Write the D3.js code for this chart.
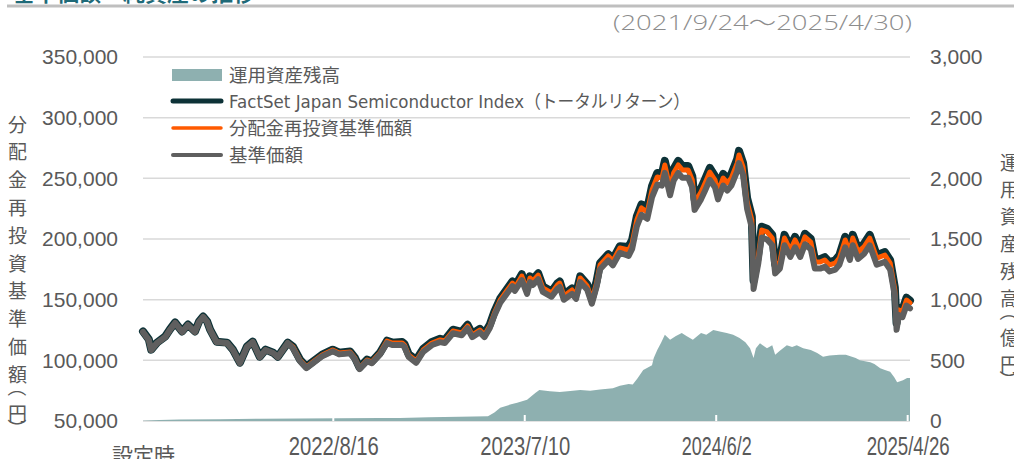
<!DOCTYPE html>
<html>
<head>
<meta charset="utf-8">
<script src="https://cdn.jsdelivr.net/npm/d3@7"></script>
<style>
body { margin: 0; background: #fff; overflow: hidden; }
svg { display: block; }
</style>
</head>
<body>
<svg id="chart" width="1014" height="459"></svg>
<script>
// 基準価額・運用資産残高の推移（2021/9/24～2025/4/30）

var lineDates = [
 "2021-09-24","2021-10-04","2021-10-08","2021-10-18","2021-11-01","2021-11-09","2021-11-18","2021-11-30","2021-12-10","2021-12-22",
 "2021-12-29","2022-01-05","2022-01-12","2022-01-17","2022-01-28","2022-02-15","2022-02-25","2022-03-09","2022-03-21","2022-03-31",
 "2022-04-12","2022-04-22","2022-05-05","2022-05-13","2022-05-30","2022-06-08","2022-06-20","2022-07-01","2022-07-12","2022-07-28",
 "2022-08-15","2022-08-26","2022-09-14","2022-09-22","2022-09-30","2022-10-13","2022-10-21","2022-11-04","2022-11-16","2022-11-25",
 "2022-12-12","2022-12-16","2022-12-23","2023-01-05","2023-01-17","2023-02-01","2023-02-15","2023-02-23","2023-03-09","2023-03-24",
 "2023-04-03","2023-04-11","2023-04-24","2023-05-02","2023-05-11","2023-05-19","2023-05-29","2023-06-09","2023-06-19","2023-06-23",
 "2023-07-05","2023-07-14","2023-07-19","2023-07-24","2023-08-02","2023-08-10","2023-08-25","2023-09-04","2023-09-08","2023-09-15",
 "2023-09-29","2023-10-06","2023-10-13","2023-10-25","2023-11-02","2023-11-10","2023-11-16","2023-11-30","2023-12-08","2023-12-20",
 "2024-01-04","2024-01-10","2024-01-18","2024-01-26","2024-02-05","2024-02-13","2024-02-22","2024-03-01","2024-03-06","2024-03-15",
 "2024-03-21","2024-03-29","2024-04-05","2024-04-15","2024-04-22","2024-04-26","2024-05-07","2024-05-14","2024-05-22","2024-05-31",
 "2024-06-05","2024-06-14","2024-06-21","2024-06-28","2024-07-08","2024-07-11","2024-07-18","2024-07-25","2024-08-02","2024-08-05",
 "2024-08-13","2024-08-19","2024-08-28","2024-09-06","2024-09-11","2024-09-19","2024-09-27","2024-10-07","2024-10-15","2024-10-24",
 "2024-11-01","2024-11-11","2024-11-18","2024-11-27","2024-12-05","2024-12-13","2024-12-23","2024-12-30","2025-01-09","2025-01-17",
 "2025-01-22","2025-01-31","2025-02-10","2025-02-20","2025-03-04","2025-03-18","2025-03-27","2025-04-04","2025-04-07","2025-04-11",
 "2025-04-17","2025-04-24","2025-04-30"
];

// FactSet Japan Semiconductor Index（トータルリターン）
var indexValues = [
 123800,117200,108800,114600,119600,125400,131200,123800,129500,123800,
 132000,136100,132000,125400,115400,114600,108800,98100,111300,115400,
 103000,108800,106300,103000,114600,111300,100600,94800,98900,104700,
 108800,106300,107200,102200,94000,100600,98900,106300,116200,114600,
 115200,113500,105200,100300,109400,115200,117700,116800,125200,123500,
 129300,121900,126000,121900,129300,140100,150900,158400,165000,160900,
 170900,159300,169200,166700,171700,160900,156700,163400,165000,154200,
 159300,155000,169200,162600,150900,165000,180000,187500,183400,194100,
 193400,199300,218500,228500,225200,243500,254400,253600,264400,245100,
 257700,264400,260200,260200,251800,232700,241800,249400,258500,251800,
 241800,253600,249400,253600,266000,272700,262700,233500,218500,165800,
 187600,210100,208500,203400,179200,183400,203400,193400,201800,193400,
 204300,200100,183400,183400,185100,180900,182500,186700,201800,190900,
 203400,191800,195900,203400,186700,189200,182500,160100,130800,143300,
 141600,151600,149200
];

// 分配金再投資基準価額
var reinvestValues = [
 123400,116800,108500,114300,119200,125000,130800,123400,129100,123400,
 131600,135700,131600,125000,115100,114300,108500,97800,111000,115100,
 102700,108500,106000,102700,114300,111000,100300,94500,98600,104400,
 108500,106000,106900,101900,93700,100300,98600,106000,115900,114300,
 114300,112600,104400,99500,108500,114300,116800,115900,124200,122500,
 128300,120900,125000,120900,128300,139000,149700,157100,163700,159600,
 169500,158000,167900,165400,170300,159600,155500,162100,163700,153000,
 158000,153800,167900,161300,149700,163700,178600,186000,181900,192600,
 190900,196700,215700,225600,222300,240400,251100,250300,261000,242000,
 254400,261000,256900,256900,248600,229700,238700,246200,255200,248600,
 238700,250300,246200,250300,262600,269200,259300,230500,215700,163700,
 185200,207400,205800,200800,176900,181000,200800,190900,199200,190900,
 201700,197500,181000,181000,182700,178600,180200,184300,199200,188500,
 200800,189300,193400,200800,184300,186800,180200,158000,129100,141500,
 139800,149700,147300
];

// 基準価額
var navValues = [
 123400,116800,108500,114300,119200,125000,130800,123400,129100,123400,
 131600,135700,131600,125000,115100,114300,108500,97800,111000,115100,
 102700,108500,106000,102700,114300,109900,99300,93600,97600,103400,
 107400,104900,105800,100900,92800,99300,97600,104900,114200,112600,
 112600,110900,102800,98000,106900,112600,115000,114200,122300,120700,
 126400,119100,123100,119100,126400,136900,147500,154700,161200,157200,
 166100,154800,164500,162100,166900,156400,152400,158900,160400,149900,
 154800,150700,164500,158100,146700,160400,175000,182300,178300,188700,
 186100,191800,210300,220000,216700,234400,244800,244000,254500,236000,
 248000,254500,250500,250500,242400,224000,232700,240000,248800,242400,
 232700,244000,240000,244000,256000,262500,252800,224700,209200,158800,
 179600,201200,199600,194800,171600,175600,194800,185200,193200,185200,
 195600,191600,175600,175600,177200,173200,174800,178800,193200,182800,
 194800,183600,187600,194800,178800,181200,174800,153300,125200,137300,
 135600,145200,142900
];

// 運用資産残高（億円）
var aumDates = [
 "2021-09-24","2021-10-22","2021-11-26","2022-02-03","2022-04-12","2022-06-20","2022-08-26","2022-11-04","2022-12-08","2023-01-27",
 "2023-03-20","2023-05-08","2023-05-19","2023-05-29","2023-06-15","2023-06-27","2023-07-14","2023-07-28","2023-08-04","2023-08-22",
 "2023-09-08","2023-09-26","2023-10-13","2023-10-30","2023-11-16","2023-12-08","2023-12-20","2024-01-04","2024-01-11","2024-01-19",
 "2024-01-29","2024-02-06","2024-02-13","2024-02-16","2024-02-22","2024-02-29","2024-03-06","2024-03-15","2024-03-25","2024-04-04",
 "2024-04-12","2024-04-23","2024-05-07","2024-05-16","2024-05-28","2024-06-10","2024-06-20","2024-07-01","2024-07-12","2024-07-22",
 "2024-07-30","2024-08-05","2024-08-09","2024-08-16","2024-08-28","2024-09-06","2024-09-11","2024-09-19","2024-10-01","2024-10-10",
 "2024-10-18","2024-10-29","2024-11-11","2024-11-22","2024-12-02","2024-12-13","2024-12-30","2025-01-10","2025-01-27","2025-02-03",
 "2025-02-21","2025-02-28","2025-03-10","2025-03-18","2025-03-27","2025-04-03","2025-04-08","2025-04-18","2025-04-25","2025-04-30"
];
var aumValues = [
 2,8,12,15,18,20,22,25,25,30,
 35,40,70,110,135,150,175,230,255,245,
 240,248,255,250,260,270,290,305,300,350,
 420,440,460,520,585,650,710,670,700,725,
 700,670,725,710,750,735,725,710,685,650,
 600,520,600,640,600,625,545,580,625,610,
 625,600,585,560,530,540,545,545,520,500,
 485,470,435,420,405,360,320,335,355,355
];

var tickDates = ["2021-09-24","2022-08-16","2023-07-10","2024-06-02","2025-04-26"];
var tickLabels = ["設定時","2022/8/16","2023/7/10","2024/6/2","2025/4/26"];
var leftTicks = [50000,100000,150000,200000,250000,300000,350000];
var rightTicks = [0,500,1000,1500,2000,2500,3000];

var legendLabels = ["運用資産残高","FactSet Japan Semiconductor Index（トータルリターン）","分配金再投資基準価額","基準価額"];
var leftTitle = "分配金再投資基準価額（円）";
var rightTitle = "運用資産残高（億円）";

var parse = d3.timeParse("%Y-%m-%d");
var fmt = d3.format(",");

var svg = d3.select("#chart");
var colAum = "#8eb0b0", colIdx = "#0d3237", colRe = "#ff5a00", colNav = "#5f5f5f";
var textCol = "#595959";
var jpFont = "'DejaVu Sans','Noto Sans CJK JP',sans-serif";

var x = d3.scaleTime()
  .domain([parse("2021-09-24"), parse("2025-04-30")])
  .range([143, 910]);
var yL = d3.scaleLinear().domain([50000, 350000]).range([421, 57]);
var yR = d3.scaleLinear().domain([0, 3000]).range([421, 57]);

// title (cut at the top of the picture) and rule
svg.append("text")
  .attr("x", 13).attr("y", 1)
  .attr("font-family", "'Noto Sans CJK JP',sans-serif")
  .attr("font-size", 22).attr("font-weight", "bold")
  .attr("fill", "#1f6a78")
  .text("基準価額・純資産の推移");
svg.append("line")
  .attr("x1", 7).attr("x2", 1014).attr("y1", 6).attr("y2", 6)
  .attr("stroke", "#bfbfbf").attr("stroke-width", 3);

svg.append("text")
  .attr("x", 613).attr("y", 29.5)
  .attr("font-family", "'Open Sans','Noto Sans CJK JP',sans-serif")
  .attr("font-weight", 300)
  .attr("font-size", 21)
  .attr("fill", "#8c8c8c")
  .attr("textLength", 299).attr("lengthAdjust", "spacingAndGlyphs")
  .text("(2021/9/24～2025/4/30)");

// grid
svg.append("g").selectAll("line")
  .data(leftTicks)
  .enter().append("line")
    .attr("x1", 143).attr("x2", 910)
    .attr("y1", function(d) { return yL(d); })
    .attr("y2", function(d) { return yL(d); })
    .attr("stroke", "#d9d9d9").attr("stroke-width", 1.5);

// area
var aum = aumDates.map(function(d, i) { return {date: parse(d), v: aumValues[i]}; });
svg.append("path")
  .datum(aum)
  .attr("fill", colAum)
  .attr("d", d3.area()
    .x(function(d) { return x(d.date); })
    .y0(yR(0))
    .y1(function(d) { return yR(d.v); }));

// white tick marks cut into the area
svg.append("g").selectAll("line")
  .data(tickDates.slice(1))
  .enter().append("line")
    .attr("x1", function(d) { return x(parse(d)); })
    .attr("x2", function(d) { return x(parse(d)); })
    .attr("y1", 421).attr("y2", 415)
    .attr("stroke", "#fff").attr("stroke-width", 2);

// lines
var rows = lineDates.map(function(d, i) {
  return {date: parse(d), idx: indexValues[i], re: reinvestValues[i], nav: navValues[i]};
});
function lineFor(key) {
  return d3.line()
    .x(function(d) { return x(d.date); })
    .y(function(d) { return yL(d[key]); });
}
var series = [
  {key: "idx", color: colIdx, w: 8},
  {key: "re", color: colRe, w: 5},
  {key: "nav", color: colNav, w: 6}
];
series.forEach(function(s) {
  svg.append("path")
    .datum(rows)
    .attr("fill", "none")
    .attr("stroke", s.color)
    .attr("stroke-width", s.w)
    .attr("stroke-linejoin", "round")
    .attr("stroke-linecap", "round")
    .attr("d", lineFor(s.key));
});

// axes
var axL = svg.append("g")
  .attr("transform", "translate(118,0)")
  .call(d3.axisLeft(yL).tickValues(leftTicks).tickSize(0).tickPadding(0).tickFormat(fmt));
var axR = svg.append("g")
  .attr("transform", "translate(930,0)")
  .call(d3.axisRight(yR).tickValues(rightTicks).tickSize(0).tickPadding(0).tickFormat(fmt));
[axL, axR].forEach(function(ax) {
  ax.select(".domain").remove();
  ax.selectAll("text")
    .attr("font-family", "'Liberation Sans',Arial,sans-serif")
    .attr("font-size", 21)
    .attr("fill", textCol);
});

var labelWidths = {"2022/8/16": 90, "2023/7/10": 90, "2024/6/2": 70, "2025/4/26": 83};
var axB = svg.append("g")
  .attr("transform", "translate(0,421)")
  .call(d3.axisBottom(x)
    .tickValues(tickDates.map(parse))
    .tickSize(0)
    .tickFormat(function(d, i) { return tickLabels[i]; }));
axB.select(".domain").remove();
axB.selectAll("text")
  .attr("y", function(d, i) { return i === 0 ? 42 : 34; })
  .attr("dy", 0)
  .attr("font-family", function(d, i) { return i === 0 ? "'Noto Sans CJK JP',sans-serif" : "'Liberation Sans',Arial,sans-serif"; })
  .attr("font-size", function(d, i) { return i === 0 ? 21 : 26; })
  .attr("fill", textCol)
  .each(function(d, i) {
    var w = labelWidths[tickLabels[i]];
    if (w) d3.select(this).attr("textLength", w).attr("lengthAdjust", "spacingAndGlyphs");
  });

// vertical axis titles, one character at a time
function verticalTitle(str, cx, y0, step) {
  var y = y0, prev = null;
  str.split("").forEach(function(ch) {
    if (prev !== null) {
      if (ch === "（") y += 14;
      else if (ch === "）") y += 16;
      else if (prev === "（") y += 25;
      else y += step;
    }
    var t = svg.append("text")
      .attr("x", cx).attr("y", y)
      .attr("text-anchor", "middle")
      .attr("dominant-baseline", "central")
      .attr("font-family", "'Noto Sans CJK JP',sans-serif")
      .attr("font-size", 19)
      .attr("fill", textCol)
      .text(ch);
    if (ch === "（" || ch === "）") t.attr("transform", "rotate(90," + cx + "," + y + ")");
    prev = ch;
  });
}
verticalTitle(leftTitle, 17.5, 123, 27.8);
verticalTitle(rightTitle, 1009.5, 161, 27.3);

// legend
var legendY = [75, 101, 128, 155];
var legendText = [111, 461, 183, 74];
var lg = svg.append("g");
lg.append("rect")
  .attr("x", 172).attr("y", legendY[0] - 6)
  .attr("width", 50).attr("height", 12)
  .attr("fill", colAum);
[[colIdx, 5], [colRe, 3.5], [colNav, 4]].forEach(function(c, i) {
  lg.append("line")
    .attr("x1", 173).attr("x2", 221)
    .attr("y1", legendY[i + 1]).attr("y2", legendY[i + 1])
    .attr("stroke", c[0]).attr("stroke-width", c[1])
    .attr("stroke-linecap", "round");
});
legendLabels.forEach(function(t, i) {
  lg.append("text")
    .attr("x", 229).attr("y", legendY[i])
    .attr("dominant-baseline", "central")
    .attr("font-family", jpFont)
    .attr("font-size", 18)
    .attr("fill", textCol)
    .attr("textLength", legendText[i]).attr("lengthAdjust", "spacingAndGlyphs")
    .text(t);
});
</script>
</body>
</html>
